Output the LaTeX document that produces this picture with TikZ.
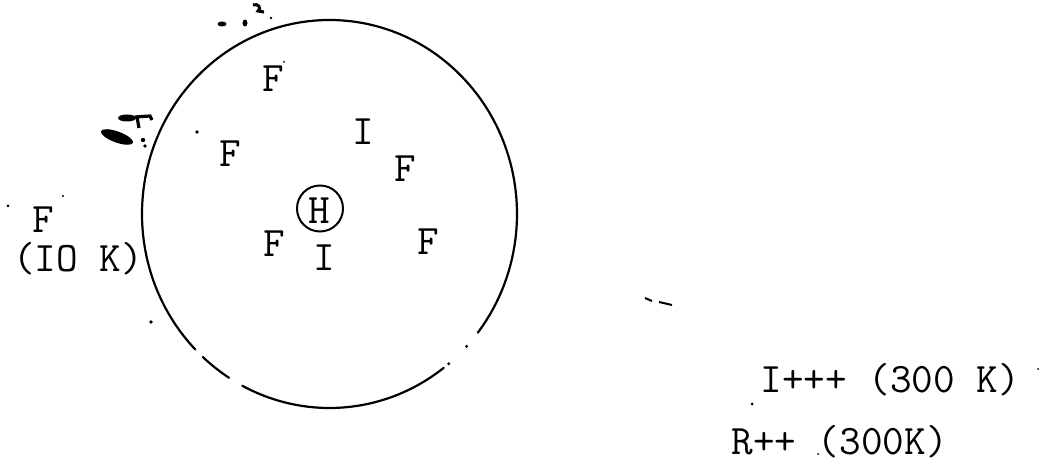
\documentclass[tikz,border=0pt]{standalone}
\begin{document}
\begin{tikzpicture}[x=0.5pt,y=-0.5pt,
  lbl/.style={font=\ttfamily\fontsize{21}{23}\selectfont, inner sep=0pt, anchor=base},
  lblw/.style={lbl, anchor=base west},
  rim/.style={line width=1.1pt, line cap=round},
  speck/.style={fill=black, draw=none}]
\useasboundingbox (0,0) rectangle (1046,470);
% large circle (broken in places)
\coordinate (c) at (329.5,214);
\draw[rim] ([shift={(52.5:187.5 and 194)}]c) arc[start angle=52.5, end angle=117.7, x radius=187.5, y radius=194];
\draw[rim] ([shift={(122.4:187.5 and 194)}]c) arc[start angle=122.4, end angle=132.5, x radius=187.5, y radius=194];
\draw[rim] ([shift={(135.7:187.5 and 194)}]c) arc[start angle=135.7, end angle=397.7, x radius=187.5, y radius=194];
\fill ([shift={(43:187.5 and 194)}]c) circle[radius=1.6];
\fill ([shift={(50.5:187.5 and 194)}]c) circle[radius=1.6];
% letters inside
\node[lbl] (f1) at (273,92) {F};
\node[lbl] (f2) at (230,167) {F};
\node[lbl] (i1) at (363,145) {I};
\node[lbl] (f3) at (405,182) {F};
\node[lbl] (h) at (319,224) {H};
\draw[line width=1pt] (320,208.5) circle[radius=23];
\node[lbl] (f4) at (274,257) {F};
\node[lbl] (i2) at (324,271) {I};
\node[lbl] (f5) at (428,255) {F};
% outside
\node[lbl] (f6) at (43,233) {F};
\node[lbl] (k10) at (78,272) {(IO K)};
\node[lblw] (i3) at (760,393) {I+++ (300 K)};
\node[lblw] (r) at (731,455) {R++ (300K)};
% speckles and smudges
\fill[speck] (8,206) circle[radius=1.5];
\fill[speck] (63,196) circle[radius=1.2];
\fill[speck] (151,322) circle[radius=1.8];
\fill[speck] (197,132) circle[radius=1.8];
\fill[speck] (284,62) circle[radius=1];
\fill[speck] (752,404) circle[radius=1.5];
\fill[speck] (1038,369) circle[radius=1];
\fill[speck] (818,454) circle[radius=1];
\draw[line width=1pt] (645,298) -- (652,301) (659,302) -- (672,305);
\fill[speck] (222,24) ellipse[x radius=4.5, y radius=2.5];
\fill[speck] (245,23) ellipse[x radius=2.5, y radius=3.5];
\draw[line width=1.5pt] (253,5) .. controls (258,3) and (262,8) .. (258,11) -- (264,12);
\fill[speck] (271,18) circle[radius=1.3];
\fill[speck,rotate around={-20:(117,137)}] (117,137) ellipse[x radius=17, y radius=5.5];
\fill[speck] (127,118) ellipse[x radius=9, y radius=3.5];
\draw[line width=1.6pt] (135,117) -- (150,116) -- (152,120) (137,117) -- (139,128);
\fill[speck] (143,140) circle[radius=2.2];
\fill[speck] (145,146) circle[radius=1.8];
\end{tikzpicture}
\end{document}
